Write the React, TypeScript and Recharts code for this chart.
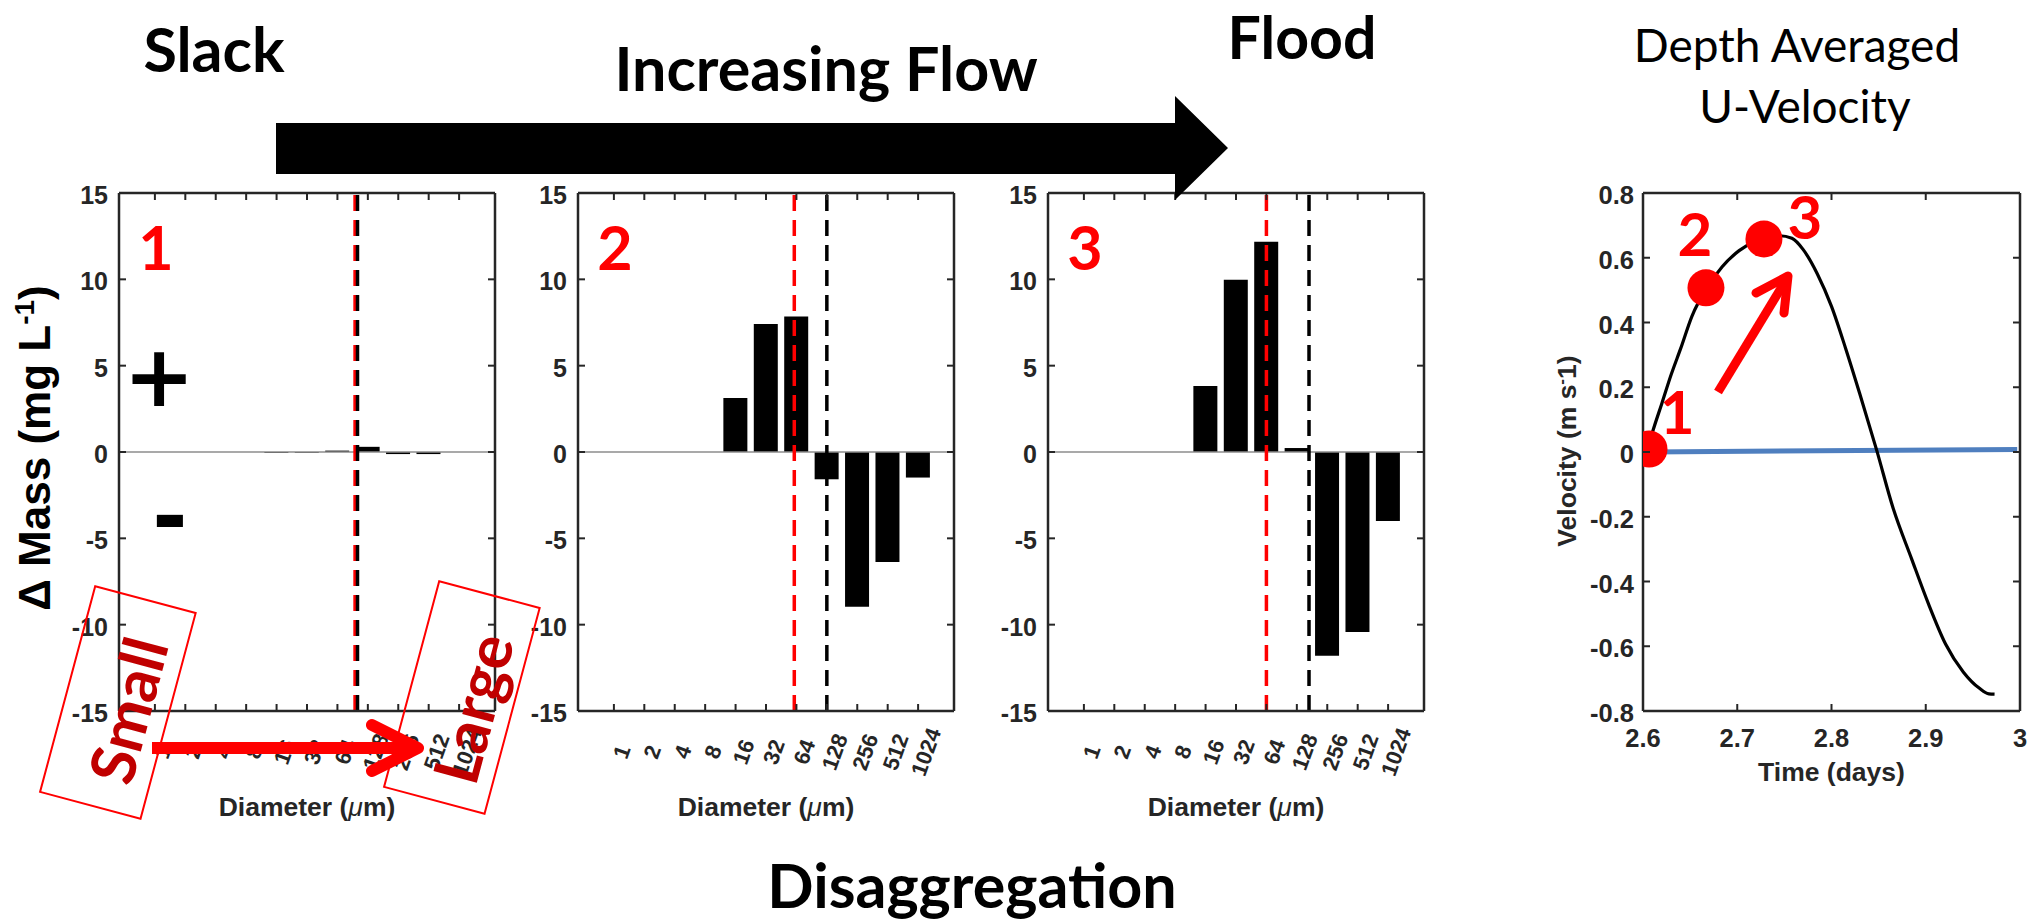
import React from 'react';
import { BarChart, Bar, XAxis, YAxis, ReferenceLine, ComposedChart, Line, Scatter } from 'recharts';

// ---------------- data ----------------
const diameterLabels = ['1', '2', '4', '8', '16', '32', '64', '128', '256', '512', '1024'];
const diameterBins = [1, 2, 3, 4, 5, 6, 7, 8, 9, 10, 11];
const massSlack = [0, 0, 0, 0, -0.05, -0.05, 0.08, 0.3, -0.12, -0.12, 0];
const massRising = [0, 0, 0, 0, 3.13, 7.42, 7.85, -1.58, -8.96, -6.37, -1.48];
const massFlood = [0, 0, 0, 0, 3.82, 9.98, 12.18, 0.23, -11.8, -10.42, -4.0];
const massTicks = [-15, -10, -5, 0, 5, 10, 15];
const redLineBin = [7.58, 6.93, 7.0];
const blackLineBin = [7.66, 8.0, 8.4];
const panelNames = ['1', '2', '3'];

const timeDays = [2.604, 2.611, 2.62, 2.63, 2.64, 2.652, 2.668, 2.684, 2.702, 2.72, 2.73, 2.745, 2.758, 2.77, 2.785, 2.8, 2.815, 2.83, 2.848, 2.865, 2.885, 2.903, 2.921, 2.94, 2.957, 2.967, 2.973];
const velocity = [0.0, 0.07, 0.15, 0.24, 0.32, 0.42, 0.507, 0.572, 0.622, 0.652, 0.662, 0.668, 0.66, 0.625, 0.55, 0.45, 0.32, 0.18, 0.005, -0.17, -0.33, -0.47, -0.593, -0.68, -0.73, -0.747, -0.748];
const slackLineTime = [2.606, 2.997];
const slackLineVel = [0.0, 0.008];
const markerTime = [2.6064, 2.6668, 2.7283];
const markerVel = [0.009, 0.507, 0.658];
const markerNames = ['1', '2', '3'];
const timeTicks = [2.6, 2.7, 2.8, 2.9, 3];
const velTicks = [-0.8, -0.6, -0.4, -0.2, 0, 0.2, 0.4, 0.6, 0.8];

// ---------------- layout / style ----------------
const AXC = '#262626';
const FONT_AX = "'Liberation Sans', Arial, Helvetica, sans-serif";
const FONT_PPT = "Lato, 'Open Sans', sans-serif";
const PLOT_TOP = 193;
const PLOT_H = 518;
const BAR_W = 376;
const panelLefts = [119, 578, 1048];
const VEL_LEFT = 1643;
const VEL_W = 377;
const AX_W = 60;
const VEL_AX_W = 70;
const TOP_PAD = 30;
const RIGHT_PAD = 10;
const BOTTOM_PAD = 80;
const TICK_LEN = 7;
const markerLabelOffsets = [[28, -15], [-11, -32], [41, 0]];

const massSeries = [massSlack, massRising, massFlood];

const bottomCatTick = (p: any) => {
  const { x, y, payload } = p;
  const lbl = diameterLabels[payload.value - 1] ?? '';
  return (
    <g>
      <line x1={x} x2={x} y1={y} y2={y - TICK_LEN} stroke={AXC} strokeWidth={2} />
      <text
        x={0}
        y={0}
        transform={`translate(${x + 8},${y + 41}) rotate(-70)`}
        textAnchor="middle"
        dominantBaseline="central"
        fontFamily={FONT_AX}
        fontWeight="bold"
        fontSize={22}
        fill={AXC}
      >
        {lbl}
      </text>
    </g>
  );
};

const topTick = (p: any) => {
  const { x, y } = p;
  return <line x1={x} x2={x} y1={y} y2={y + TICK_LEN} stroke={AXC} strokeWidth={2} />;
};

const rightTick = (p: any) => {
  const { x, y } = p;
  return <line x1={x} x2={x - TICK_LEN} y1={y} y2={y} stroke={AXC} strokeWidth={2} />;
};

const makeLeftTick = (fmt: (v: number) => string, fs: number, gap: number) => (p: any) => {
  const { x, y, payload } = p;
  return (
    <g>
      <line x1={x} x2={x + TICK_LEN} y1={y} y2={y} stroke={AXC} strokeWidth={2} />
      <text x={x - gap} y={y + 2} textAnchor="end" dominantBaseline="central" fontFamily={FONT_AX} fontWeight="bold" fontSize={fs} fill={AXC}>
        {fmt(payload.value)}
      </text>
    </g>
  );
};

const massLeftTick = makeLeftTick((v) => String(v), 25, 11);
const velLeftTick = makeLeftTick((v) => (Math.abs(v) < 1e-9 ? '0' : v.toFixed(1)), 25.5, 9);

const velBottomTick = (p: any) => {
  const { x, y, payload } = p;
  return (
    <g>
      <line x1={x} x2={x} y1={y} y2={y - TICK_LEN} stroke={AXC} strokeWidth={2} />
      <text x={x} y={y + 27} textAnchor="middle" dominantBaseline="central" fontFamily={FONT_AX} fontWeight="bold" fontSize={25.5} fill={AXC}>
        {String(payload.value)}
      </text>
    </g>
  );
};

const axisLineStyle = { stroke: AXC, strokeWidth: 2.5 };

function BarPanel({ idx }: { idx: number }) {
  const values = massSeries[idx];
  const data = diameterBins.map((b, i) => ({ bin: b, mass: values[i] }));
  const width = AX_W + BAR_W + RIGHT_PAD;
  const height = TOP_PAD + PLOT_H + BOTTOM_PAD;
  const xDomain: [number, number] = [-0.18, 12.18];
  return (
    <div style={{ position: 'absolute', left: panelLefts[idx] - AX_W, top: PLOT_TOP - TOP_PAD }}>
      <BarChart width={width} height={height} data={data} margin={{ top: 0, right: 0, bottom: 0, left: 0 }}>
        <XAxis dataKey="bin" type="number" domain={xDomain} allowDataOverflow ticks={diameterBins} interval={0}
          tickSize={0} tickMargin={0} tickLine={false} axisLine={axisLineStyle} tick={bottomCatTick} height={BOTTOM_PAD} />
        <XAxis xAxisId="top" orientation="top" dataKey="bin" type="number" domain={xDomain} allowDataOverflow ticks={diameterBins} interval={0}
          tickSize={0} tickMargin={0} tickLine={false} axisLine={axisLineStyle} tick={topTick} height={TOP_PAD} />
        <YAxis type="number" domain={[-15, 15]} allowDataOverflow ticks={massTicks} interval={0}
          tickSize={0} tickMargin={0} tickLine={false} axisLine={axisLineStyle} tick={massLeftTick} width={AX_W} />
        <YAxis yAxisId="right" orientation="right" type="number" domain={[-15, 15]} allowDataOverflow ticks={massTicks} interval={0}
          tickSize={0} tickMargin={0} tickLine={false} axisLine={axisLineStyle} tick={rightTick} width={RIGHT_PAD} />
        <Bar dataKey="mass" fill="#000000" barSize={24} isAnimationActive={false} />
        <ReferenceLine y={0} stroke="#8c8c8c" strokeWidth={1.5} />
        <ReferenceLine x={redLineBin[idx]} stroke="#ff0000" strokeWidth={3.5} strokeDasharray="16 9" />
        <ReferenceLine x={blackLineBin[idx]} stroke="#000000" strokeWidth={3.5} strokeDasharray="16 9" />
      </BarChart>
    </div>
  );
}

const MarkerShape = (p: any) => {
  const { cx, cy, payload } = p;
  const off = markerLabelOffsets[payload.idx];
  return (
    <g>
      <circle cx={cx} cy={cy} r={18.5} fill="#ff0000" />
      <text x={cx + off[0]} y={cy + off[1]} textAnchor="middle" fontFamily={FONT_PPT} fontWeight="bold" fontSize={60} fill="#ff0000">
        {payload.name}
      </text>
    </g>
  );
};

function VelocityPanel() {
  const curve = timeDays.map((t, i) => ({ t, v: velocity[i] }));
  const slack = slackLineTime.map((t, i) => ({ t, v: slackLineVel[i] }));
  const markers = markerTime.map((t, i) => ({ t, v: markerVel[i], name: markerNames[i], idx: i }));
  const width = VEL_AX_W + VEL_W + RIGHT_PAD;
  const height = TOP_PAD + PLOT_H + BOTTOM_PAD;
  return (
    <div style={{ position: 'absolute', left: VEL_LEFT - VEL_AX_W, top: PLOT_TOP - TOP_PAD }}>
      <ComposedChart width={width} height={height} margin={{ top: 0, right: 0, bottom: 0, left: 0 }}>
        <XAxis dataKey="t" type="number" domain={[2.6, 3]} allowDataOverflow ticks={timeTicks} interval={0}
          tickSize={0} tickMargin={0} tickLine={false} axisLine={axisLineStyle} tick={velBottomTick} height={BOTTOM_PAD} />
        <XAxis xAxisId="top" orientation="top" dataKey="t" type="number" domain={[2.6, 3]} allowDataOverflow ticks={timeTicks} interval={0}
          tickSize={0} tickMargin={0} tickLine={false} axisLine={axisLineStyle} tick={topTick} height={TOP_PAD} />
        <YAxis type="number" domain={[-0.8, 0.8]} allowDataOverflow ticks={velTicks} interval={0}
          tickSize={0} tickMargin={0} tickLine={false} axisLine={axisLineStyle} tick={velLeftTick} width={VEL_AX_W} />
        <YAxis yAxisId="right" orientation="right" type="number" domain={[-0.8, 0.8]} allowDataOverflow ticks={velTicks} interval={0}
          tickSize={0} tickMargin={0} tickLine={false} axisLine={axisLineStyle} tick={rightTick} width={RIGHT_PAD} />
        <Line data={slack} dataKey="v" type="linear" stroke="#4f7fbf" strokeWidth={5} dot={false} isAnimationActive={false} />
        <Line data={curve} dataKey="v" type="monotone" stroke="#000000" strokeWidth={3.2} dot={false} isAnimationActive={false} />
        <Scatter data={markers} dataKey="v" shape={MarkerShape} isAnimationActive={false} />
      </ComposedChart>
    </div>
  );
}

function Overlay() {
  const titleStyle = { fontFamily: FONT_PPT, fontWeight: 700 as const, fill: '#000' };
  return (
    <svg width={2035} height={923} style={{ position: 'absolute', left: 0, top: 0, pointerEvents: 'none' }}>
      {/* headline texts */}
      <text x={214} y={72} textAnchor="middle" fontSize={61} {...titleStyle}>Slack</text>
      <text x={826} y={91} textAnchor="middle" fontSize={61} {...titleStyle}>Increasing Flow</text>
      <text x={1302} y={59} textAnchor="middle" fontSize={59} {...titleStyle}>Flood</text>
      <text x={972} y={908} textAnchor="middle" fontSize={61} {...titleStyle}>Disaggregation</text>
      <text x={1797} y={62} textAnchor="middle" fontSize={46} fontFamily={FONT_PPT} fill="#000">Depth Averaged</text>
      <text x={1805} y={123} textAnchor="middle" fontSize={46} fontFamily={FONT_PPT} fill="#000">U-Velocity</text>

      {/* big flow arrow */}
      <polygon points="276,123 1175,123 1175,96 1228,148 1175,200 1175,174 276,174" fill="#000" />

      {/* panel numbers */}
      {panelLefts.map((pl, i) => (
        <text key={i} x={pl + 37} y={270} textAnchor="middle" fontFamily={FONT_PPT} fontWeight={700} fontSize={61} fill="#ff0000">
          {panelNames[i]}
        </text>
      ))}

      {/* plus / minus */}
      <text x={159} y={406} textAnchor="middle" fontFamily="'DejaVu Sans', sans-serif" fontWeight="bold" fontSize={85} fill="#000">+</text>
      <text x={170} y={546} textAnchor="middle" fontFamily="'DejaVu Sans', sans-serif" fontWeight="bold" fontSize={85} fill="#000">-</text>

      {/* y label panel 1 */}
      <text transform="translate(50,448) rotate(-90)" textAnchor="middle" fontFamily={FONT_AX} fontWeight="bold" fontSize={44} fill="#000">
        Δ Mass (mg L<tspan dy={-16} fontSize={28}>-1</tspan><tspan dy={16}>)</tspan>
      </text>

      {/* x labels */}
      {panelLefts.map((pl, i) => (
        <text key={i} x={pl + BAR_W / 2} y={816} textAnchor="middle" fontFamily={FONT_AX} fontWeight="bold" fontSize={26.5} fill={AXC}>
          Diameter (<tspan fontStyle="italic" fontWeight="normal">μ</tspan>m)
        </text>
      ))}
      <text x={VEL_LEFT + VEL_W / 2} y={781} textAnchor="middle" fontFamily={FONT_AX} fontWeight="bold" fontSize={26.5} fill={AXC}>Time (days)</text>
      <text transform="translate(1576,451) rotate(-90)" textAnchor="middle" fontFamily={FONT_AX} fontWeight="bold" fontSize={26.5} fill={AXC}>
        Velocity (m s<tspan dy={-9} fontSize={17}>-</tspan><tspan dy={9}>1)</tspan>
      </text>

      {/* Small / Large boxes */}
      <g transform="translate(118,702) rotate(15)">
        <rect x={-52} y={-106} width={104} height={213} fill="none" stroke="#ff0000" strokeWidth={2} />
      </g>
      <g transform="translate(462,697) rotate(15)">
        <rect x={-52} y={-106} width={104} height={213} fill="none" stroke="#ff0000" strokeWidth={2} />
      </g>
      <text transform="translate(127,710) rotate(-75)" textAnchor="middle" dominantBaseline="central" fontFamily={FONT_PPT} fontWeight={700} fontSize={62} fill="#c00000">Small</text>
      <text transform="translate(472,708) rotate(-75)" textAnchor="middle" dominantBaseline="central" fontFamily={FONT_PPT} fontWeight={700} fontSize={62} fill="#c00000">Large</text>

      {/* red arrow panel 1 */}
      <line x1={152} y1={748} x2={414} y2={748} stroke="#ff0000" strokeWidth={12} />
      <polyline points="372,725 418,748 372,771" fill="none" stroke="#ff0000" strokeWidth={12} strokeLinecap="round" strokeLinejoin="round" />

      {/* red arrow velocity panel */}
      <line x1={1718} y1={392} x2={1786} y2={280} stroke="#ff0000" strokeWidth={9} />
      <polyline points="1756,293 1788,276 1784,313" fill="none" stroke="#ff0000" strokeWidth={9} strokeLinecap="round" strokeLinejoin="round" />
    </svg>
  );
}

export default function App() {
  return (
    <div style={{ position: 'absolute', left: 0, top: 0, width: 2035, height: 923, background: '#ffffff', overflow: 'hidden' }}>
      {panelLefts.map((_, i) => (
        <BarPanel key={i} idx={i} />
      ))}
      <VelocityPanel />
      <Overlay />
    </div>
  );
}
